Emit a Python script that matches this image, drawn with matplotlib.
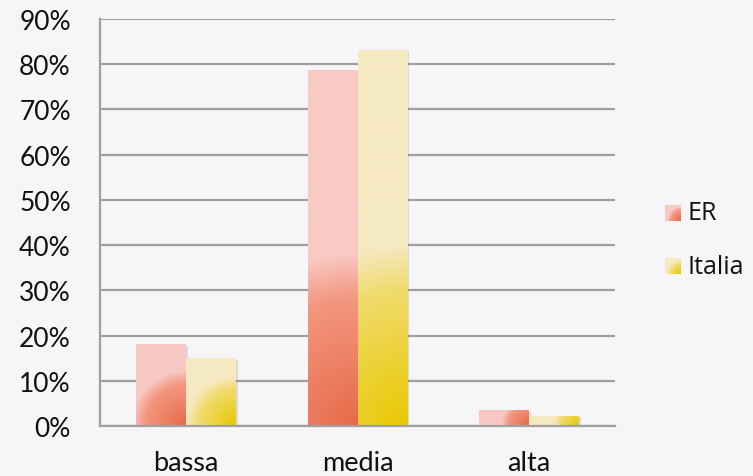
import numpy as np
import matplotlib.pyplot as plt
import matplotlib.patheffects as pe
from matplotlib.colors import to_rgb

# data
categories = ['bassa', 'media', 'alta']
series_names = ['ER', 'Italia']
er_values = [0.181, 0.788, 0.035]
italia_values = [0.150, 0.832, 0.022]
y_ticks = [0, 0.1, 0.2, 0.3, 0.4, 0.5, 0.6, 0.7, 0.8, 0.9]
y_tick_labels = ['0%', '10%', '20%', '30%', '40%', '50%', '60%', '70%', '80%', '90%']

# gradient stops: corner (dark) -> mid -> light
er_stops = ['#e86a48', '#f39780', '#f8cac4']
it_stops = ['#e8c800', '#f0db6c', '#f5e9c2']
bg = '#f6f6f9'

W, H, DPI = 753, 477, 100
fig = plt.figure(figsize=(W / DPI, H / DPI), dpi=DPI, facecolor=bg)
ax = fig.add_axes([100 / W, 1 - 427 / H, 515 / W, 407 / H])
ax.set_facecolor(bg)

ax.set_xlim(0, 3)
ax.set_ylim(0, 0.9)

x = np.arange(len(categories)) + 0.5
bw = 50 / 172


def gradient_img(wpx, hpx, stops):
    nx = max(int(round(wpx)), 2)
    ny = max(int(round(hpx)), 2)
    xs = np.linspace(0, wpx, nx)
    ys = np.linspace(0, hpx, ny)
    gx, gy = np.meshgrid(xs, ys)
    d = np.sqrt((wpx - gx) ** 2 + gy ** 2)
    r = (wpx + hpx) / 2
    t = d / r
    cols = np.array([to_rgb(c) for c in stops])
    pos = [0, 0.63, 0.85]
    img = np.zeros((ny, nx, 3))
    for ch in range(3):
        img[..., ch] = np.interp(t, pos, cols[:, ch])
    return img


px_per_x = 515 / 3
px_per_y = 407 / 0.9

for vals, off, stops in [(er_values, -bw / 2, er_stops), (italia_values, bw / 2, it_stops)]:
    bars = ax.bar(x + off, vals, bw, color=stops[2], edgecolor='none', zorder=3,
                  path_effects=[pe.SimplePatchShadow(offset=(1.5, -1), shadow_rgbFace='#888888', alpha=0.25),
                                pe.Normal()])
    for b in bars:
        x0, w, h = b.get_x(), b.get_width(), b.get_height()
        img = gradient_img(w * px_per_x, h * px_per_y, stops)
        im = ax.imshow(img, origin='lower', extent=(x0, x0 + w, 0, h), aspect='auto',
                       interpolation='bilinear', zorder=4)
        im.set_clip_path(b)

ax.set_xlim(0, 3)
ax.set_ylim(0, 0.9)

ax.set_yticks(y_ticks)
ax.set_yticklabels(y_tick_labels, fontsize=19, fontfamily='Lato')
ax.set_xticks(x)
ax.set_xticklabels(categories, fontsize=19.5, fontfamily='Lato')
ax.tick_params(axis='both', length=0, colors='#111111')
ax.tick_params(axis='y', pad=21)
ax.tick_params(axis='x', pad=17)

ax.yaxis.grid(True, color='#a0a0a0', linewidth=1.6, zorder=1)
ax.set_axisbelow(True)
for s in ['top', 'right']:
    ax.spines[s].set_visible(False)
ax.spines['left'].set_color('#a0a0a0')
ax.spines['left'].set_linewidth(1.6)
ax.spines['bottom'].set_color('#a0a0a0')
ax.spines['bottom'].set_linewidth(1.6)
ax.spines['bottom'].set_zorder(5)

# legend swatches
for i, (name, stops) in enumerate(zip(series_names, [er_stops, it_stops])):
    ytop = 206 + i * 53
    sax = fig.add_axes([665 / W, 1 - (ytop + 16) / H, 16 / W, 16 / H])
    sax.imshow(gradient_img(16, 16, stops), origin='lower', aspect='auto', interpolation='bilinear')
    sax.axis('off')
    fig.text(688 / W, 1 - (ytop + 8) / H, name, fontsize=18, fontfamily='Open Sans',
             va='center', ha='left', color='#111111')

fig.savefig('out.png', dpi=DPI, facecolor=bg)
